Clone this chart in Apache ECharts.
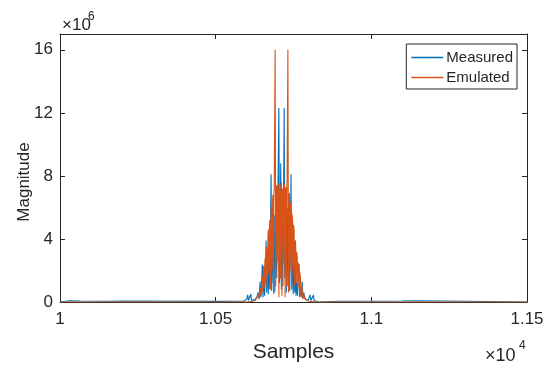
<!DOCTYPE html>
<html>
<head>
<meta charset="utf-8">
<script src="https://cdn.jsdelivr.net/npm/echarts@6/dist/echarts.min.js"></script>
<style>
html,body{margin:0;padding:0;background:#fff;}
#c{width:550px;height:372px;}
</style>
</head>
<body>
<div id="c"></div>
<script>
// Data (x in samples, y in units of 1e6)
const xTicks = [10000, 10500, 11000, 11500];
const yTicks = [0, 4, 8, 12, 16];
const seriesNames = ['Measured', 'Emulated'];

const measuredX = [10000,10030,10034,10065,10068,10150,10153,10200,10203,10500,10503,10590,10600,10603,10605,10607,10610,10613,10615,10618,10625,10632,10636,10639,10643,10645,10647,10650,10652,10655,10657,10659,10662,10664,10667,10669,10672,10674,10678,10680,10683,10685,10688,10690,10694,10696,10699,10703,10705,10709,10711,10714,10716,10720,10722,10725,10727,10730,10732,10736,10738,10742,10744,10747,10749,10752,10754,10756,10758,10761,10763,10765,10768,10770,10773,10775,10778,10780,10783,10786,10790,10797,10801,10803,10806,10811,10814,10816,10820,10830,10900,10903,11100,11103,11150,11153,11300,11303,11500];
const measuredY = [0,0.08,0,0.06,0,0.05,0,0.06,0,0.04,0,0.05,0.2,0.45,0.1,0.1,0.2,0.5,0.1,0.05,0.15,0.3,0.6,0.2,1.3,0.3,0.9,2.4,0.3,1.8,0.4,1.2,3.9,0.6,2.5,0.5,3.2,0.8,8.1,0.7,4.8,1.2,5.5,0.6,6.2,1.5,5.0,12.3,1.2,8.8,0.8,6.5,1.0,12.3,1.5,5.0,0.6,6.0,1.0,5.3,0.7,8.1,0.8,3.2,0.5,2.5,0.6,3.9,0.4,1.2,0.4,1.8,2.4,0.3,0.9,0.3,1.3,0.2,0.6,0.3,0.15,0.1,0.1,0.45,0.1,0.1,0.45,0.1,0.05,0,0.05,0,0.06,0,0.08,0,0.05,0,0];

const emulatedX = [10000,10600,10620,10628,10634,10637,10640,10643,10646,10648,10649,10651,10653,10654,10656,10658,10659,10661,10663,10664,10666,10668,10669,10671,10673,10674,10676,10678,10679,10681,10683,10684,10686,10687,10688,10691,10693,10694,10696,10698,10699,10701,10703,10704,10706,10708,10709,10711,10713,10714,10716,10718,10719,10721,10723,10724,10726,10728,10729,10732,10734,10735,10737,10739,10740,10742,10744,10745,10747,10749,10750,10752,10754,10755,10757,10759,10760,10762,10764,10765,10767,10769,10770,10772,10774,10777,10780,10783,10786,10790,10800,10820,11500];
const emulatedY = [0,0,0.05,0.1,0.2,0.5,0.2,0.9,0.4,1.2,1.6,0.6,1.9,2.3,0.9,2.5,2.8,1.2,3.0,3.5,1.0,4.1,4.6,1.8,4.9,5.2,0.8,5.8,6.1,2.0,6.5,6.8,0.5,6.9,7.2,16.0,1.0,7.0,7.4,2.5,7.2,7.5,0.3,7.1,6.9,1.5,7.3,7.6,0.4,7.2,7.0,2.5,7.3,7.5,0.3,7.1,7.3,1.0,6.9,16.0,0.6,6.6,6.9,2.0,6.0,6.3,0.8,5.6,5.3,1.8,4.9,4.6,1.0,3.9,3.6,1.2,3.2,2.9,0.9,2.5,2.3,0.6,1.9,1.6,0.4,1.0,0.2,0.5,0.2,0.1,0.05,0,0];

const SCALE = 1e6;
const toPairs = (xs, ys) => xs.map((x, i) => [x, ys[i] * SCALE]);

const txt = '#262626';
const font = 'Liberation Sans, Arial, sans-serif';
const chart = echarts.init(document.getElementById('c'), null, {renderer: 'canvas'});

const axisCommon = {
  axisLine: {show: true, onZero: false, lineStyle: {color: txt, width: 1}},
  axisTick: {show: true, inside: true, length: 5, lineStyle: {color: txt}},
  splitLine: {show: false}
};

chart.setOption({
  animation: false,
  backgroundColor: '#fff',
  grid: {left: 60, right: 23, top: 34, bottom: 70, containLabel: false, outerBoundsMode: 'none'},
  legend: {
    data: seriesNames,
    orient: 'vertical',
    right: 33, top: 44,
    icon: 'rect',
    itemWidth: 32, itemHeight: 1.5,
    itemGap: 5,
    padding: [6, 4, 4, 5],
    borderColor: txt, borderWidth: 1,
    backgroundColor: '#fff',
    textStyle: {fontFamily: font, fontSize: 15, color: txt, padding: [0,0,0,-2]}
  },
  xAxis: [
    Object.assign({
      type: 'value', min: xTicks[0], max: xTicks[xTicks.length-1], interval: 500,
      axisLabel: {show: true, margin: 9, color: txt, fontFamily: font, fontSize: 17,
        formatter: v => String(+(v/1e4).toFixed(2))},
      name: 'Samples', nameLocation: 'middle', nameGap: 40,
      nameTextStyle: {fontFamily: font, fontSize: 21, color: txt}
    }, axisCommon),
    Object.assign({
      type: 'value', position: 'top', min: xTicks[0], max: xTicks[xTicks.length-1], interval: 500,
      axisLabel: {show: false}
    }, axisCommon)
  ],
  yAxis: [
    Object.assign({
      type: 'value', min: 0, max: 17e6, interval: 4e6,
      axisLabel: {show: true, margin: 7, color: txt, fontFamily: font, fontSize: 17, showMaxLabel: false,
        formatter: v => yTicks.indexOf(v/1e6) >= 0 ? String(v/1e6) : ''}
    }, axisCommon),
    Object.assign({
      type: 'value', position: 'right', min: 0, max: 17e6, interval: 4e6,
      axisLabel: {show: false}
    }, axisCommon)
  ],
  graphic: [
    {type: 'text', x: 24, y: 182, rotation: Math.PI/2,
      style: {text: 'Magnitude', fontFamily: font, fontSize: 17, fill: txt, align: 'center', verticalAlign: 'middle'}},
    {type: 'text', x: 62, y: 17, style: {text: '×10', fontFamily: font, fontSize: 17, fill: txt}},
    {type: 'text', x: 88, y: 11, style: {text: '6', fontFamily: font, fontSize: 12, fill: txt}},
    {type: 'text', x: 485, y: 347, style: {text: '×10', fontFamily: font, fontSize: 18, fill: txt}},
    {type: 'text', x: 519, y: 340, style: {text: '4', fontFamily: font, fontSize: 12, fill: txt}}
  ],
  series: [
    {name: seriesNames[0], type: 'line', data: toPairs(measuredX, measuredY), showSymbol: false, symbol: 'none',
      lineStyle: {color: '#0072BD', width: 1.1}, itemStyle: {color: '#0072BD'}, z: 2},
    {name: seriesNames[1], type: 'line', data: toPairs(emulatedX, emulatedY), showSymbol: false, symbol: 'none',
      lineStyle: {color: '#D95319', width: 1.1}, itemStyle: {color: '#D95319'}, z: 3}
  ]
});
</script>
</body>
</html>
